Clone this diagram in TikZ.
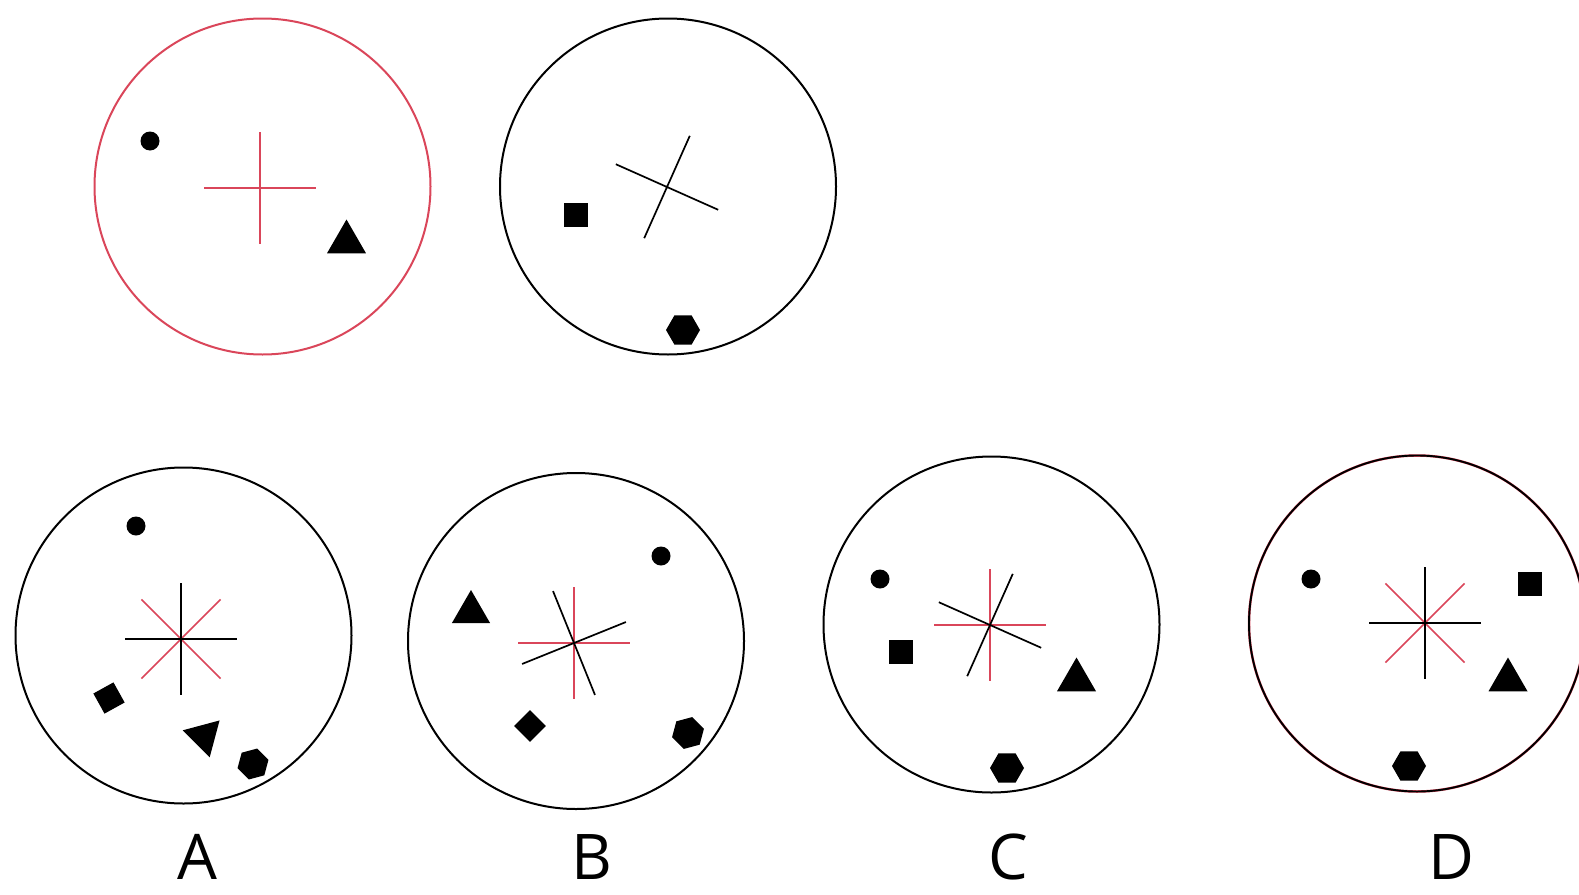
\documentclass[tikz,border=0pt]{standalone}
\usepackage{fontspec}
\setmainfont{Open Sans}
\usetikzlibrary{shapes.geometric}

\definecolor{pinkred}{RGB}{218,70,90}

\begin{document}
\begin{tikzpicture}[x=1pt,y=-1pt,
  ring/.style={line width=2pt},
  arm/.style={line width=1.7pt},
  dot/.style={circle,fill=black,inner sep=0pt,minimum size=19pt},
  block/.style={rectangle,fill=black,inner sep=0pt,minimum size=24pt},
  tri/.style={regular polygon,regular polygon sides=3,fill=black,inner sep=0pt,minimum size=45pt},
  hexa/.style={regular polygon,regular polygon sides=6,fill=black,inner sep=0pt,minimum size=34pt},
  letter/.style={anchor=base,inner sep=0pt,font=\fontsize{63}{66}\selectfont}]

  \def\arm{56}
  \def\rad{168}

  \useasboundingbox (0,0) rectangle (1579,894);

  % circle centres
  \coordinate (O1) at (262.5,186.5);
  \coordinate (O2) at (668,186.5);
  \coordinate (OA) at (183.5,635.5);
  \coordinate (OB) at (576,641);
  \coordinate (OC) at (991.5,624.5);
  \coordinate (OD) at (1417,623.5);

  % cross centres
  \coordinate (X1) at (260,188);
  \coordinate (X2) at (667,187);
  \coordinate (XA) at (181,639);
  \coordinate (XB) at (574,643);
  \coordinate (XC) at (990,625);
  \coordinate (XD) at (1425,623);

  \draw[ring,pinkred] (O1) circle (\rad);
  \draw[ring] (O2) circle (\rad);
  \draw[ring] (OA) circle (\rad);
  \draw[ring] (OB) circle (\rad);
  \draw[ring] (OC) circle (\rad);
  \draw[ring,pinkred,line width=2.5pt] (OD) circle (\rad);
  \draw[ring,line width=1.9pt] (OD) circle (\rad);

  \draw[arm,pinkred,shift={(X1)}] (-\arm,0) -- (\arm,0) (0,-\arm) -- (0,\arm);
  \draw[arm,shift={(X2)}] (24:\arm) -- (204:\arm) (114:\arm) -- (294:\arm);

  \draw[arm,pinkred,shift={(XA)}] (45:\arm) -- (225:\arm) (135:\arm) -- (315:\arm);
  \draw[arm,shift={(XA)}] (-\arm,0) -- (\arm,0) (0,-\arm) -- (0,\arm);

  \draw[arm,pinkred,shift={(XB)}] (-\arm,0) -- (\arm,0) (0,-\arm) -- (0,\arm);
  \draw[arm,shift={(XB)}] (-22:\arm) -- (158:\arm) (68:\arm) -- (248:\arm);

  \draw[arm,pinkred,shift={(XC)}] (-\arm,0) -- (\arm,0) (0,-\arm) -- (0,\arm);
  \draw[arm,shift={(XC)}] (24:\arm) -- (204:\arm) (114:\arm) -- (294:\arm);

  \draw[arm,pinkred,shift={(XD)}] (45:\arm) -- (225:\arm) (135:\arm) -- (315:\arm);
  \draw[arm,shift={(XD)}] (-\arm,0) -- (\arm,0) (0,-\arm) -- (0,\arm);

  % top row
  \node[dot] (dot1) at (150,141) {};
  \node[tri] (tri1) at (346.5,242) {};
  \node[block] (sq2) at (576,214.5) {};
  \node[hexa] (hex2) at (683,330) {};

  % A
  \node[dot] (dotA) at (136,526) {};
  \node[block,minimum size=23pt,rotate=29] (sqA) at (109,698) {};
  \node[tri,minimum size=44pt,rotate=-45] (triA) at (204,736) {};
  \node[hexa,minimum size=32pt,rotate=15] (hexA) at (253,764) {};

  % B
  \node[dot] (dotB) at (661,556) {};
  \node[tri,minimum size=44pt] (triB) at (471,612) {};
  \node[block,minimum size=22.6pt,rotate=45] (sqB) at (530,726) {};
  \node[hexa,minimum size=33pt,rotate=15] (hexB) at (688,733) {};

  % C
  \node[dot] (dotC) at (880,579) {};
  \node[block] (sqC) at (900.5,652) {};
  \node[tri] (triC) at (1076.5,680) {};
  \node[hexa] (hexC) at (1007,768) {};

  % D
  \node[dot] (dotD) at (1311,579) {};
  \node[block] (sqD) at (1530,584) {};
  \node[tri] (triD) at (1508,680) {};
  \node[hexa] (hexD) at (1409,766) {};

  \node[letter] (labA) at (197,879) {A};
  \node[letter] (labB) at (592,879) {B};
  \node[letter] (labC) at (1008,879) {C};
  \node[letter] (labD) at (1451,879) {D};

\end{tikzpicture}
\end{document}
